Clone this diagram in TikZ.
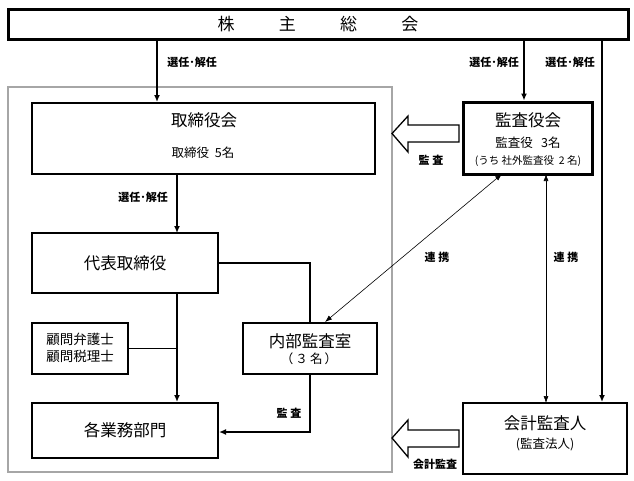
\documentclass[tikz,border=0pt]{standalone}
\usepackage{fontspec}
\setmainfont{Noto Sans CJK JP}
\usetikzlibrary{arrows.meta}
\tikzset{
  box/.style={draw, line width=2pt, inner sep=0pt},
  boxtext/.style={font=\fontsize{16.5}{18}\selectfont, inner sep=0pt},
  subtext/.style={font=\fontsize{12.5}{14}\selectfont, inner sep=0pt},
  lbl/.style={font=\bfseries\fontsize{11}{13}\selectfont, inner sep=0pt},
  conn/.style={line width=1.5pt, -{Latex[length=7pt,width=6pt]}},
  plain/.style={line width=1.5pt},
  thin/.style={line width=0.6pt, {Latex[length=7pt,width=5pt]}-{Latex[length=7pt,width=5pt]}},
  hollow/.style={draw, line width=1.3pt, fill=white, line join=miter},
}
\begin{document}
\begin{tikzpicture}[x=1pt,y=-1pt]
\useasboundingbox (0,0) rectangle (634,480);
% gray frame
\draw[gray!70, line width=1.3pt] (8,87) rectangle (392,472);
% boxes
\node[box, line width=3pt, minimum width=620pt, minimum height=30pt] (sh) at (318,24.5) {};
\node[font=\fontsize{17}{19}\selectfont] at (sh) {株\hspace{2.6em}主\hspace{2.6em}総\hspace{2.6em}会};
\node[box, minimum width=343pt, minimum height=71pt] (tr) at (203.5,138.5) {};
\node[boxtext] at (204,120) {取締役会};
\node[subtext] at (203,153) {取締役\ \ 5名};
\node[box, minimum width=186pt, minimum height=60pt] (dh) at (125,263) {};
\node[boxtext] at (dh) {代表取締役};
\node[box, minimum width=96pt, minimum height=51pt] (km) at (80,348.5) {};
\node[font=\fontsize{13.5}{17}\selectfont, inner sep=0pt, align=center] at (80,348) {顧問弁護士\\顧問税理士};
\node[box, minimum width=134pt, minimum height=51pt] (nb) at (310,348.5) {};
\node[boxtext] at (310,341) {内部監査室};
\node[subtext] at (309,359) {（\,３\,名\,）};
\node[box, line width=3pt, minimum width=129pt, minimum height=72pt] (ks) at (527.5,138) {};
\node[boxtext] at (528,120) {監査役会};
\node[subtext] at (528,143) {監査役\ \ \ 3名};
\node[font=\fontsize{10.5}{12}\selectfont, inner sep=0pt] at (528,161) {(うち 社外監査役\ \ 2 名)};
\node[box, minimum width=186pt, minimum height=55pt] (kg) at (125,430.5) {};
\node[boxtext] at (kg) {各業務部門};
\node[box, minimum width=164pt, minimum height=71pt] (kk) at (545,438.5) {};
\node[boxtext] at (545,423) {会計監査人};
\node[subtext] at (545,444) {(監査法人)};
% coordinates
\coordinate (a1) at (157,40);
\coordinate (a2) at (524,40);
\coordinate (a3) at (602,40);
\coordinate (c1) at (177,293);
\coordinate (c2) at (177,348.5);
\coordinate (c3) at (310,263);
\coordinate (c4) at (310,432);
% connectors
\draw[conn] (a1) -- (a1 |- tr.north);
\draw[conn] (a2) -- (a2 |- ks.north);
\draw[conn] (a3) -- (a3 |- kk.north);
\draw[conn] (177,174) -- (177,233);
\draw[conn] (c1) -- (c1 |- kg.north);
\draw[plain] (km.east) -- (c2);
\draw[plain] (dh.east |- c3) -- (c3) -- (nb.north);
\draw[conn] (nb.south) -- (c4) -- (kg.east |- c4);
\draw[thin] (502,174) -- (325,322);
\draw[thin] (546,174) -- (546,403);
% hollow arrows
\draw[hollow] (459,125) -- (408,125) -- (408,116) -- (392,133.5) -- (408,152) -- (408,142) -- (459,142) -- cycle;
\draw[hollow] (459,430) -- (408,430) -- (408,420) -- (392,438) -- (408,457) -- (408,447) -- (459,447) -- cycle;
% labels
\node[lbl] at (192,62) {選任･解任};
\node[lbl] at (494,62) {選任･解任};
\node[lbl] at (570,62) {選任･解任};
\node[lbl] at (143,197) {選任･解任};
\node[lbl] at (431,160) {監\ 査};
\node[lbl] at (435,464) {会計監査};
\node[lbl] at (289,413) {監\ 査};
\node[lbl] at (437,257) {連\ 携};
\node[lbl] at (566,257) {連\ 携};
\end{tikzpicture}
\end{document}
